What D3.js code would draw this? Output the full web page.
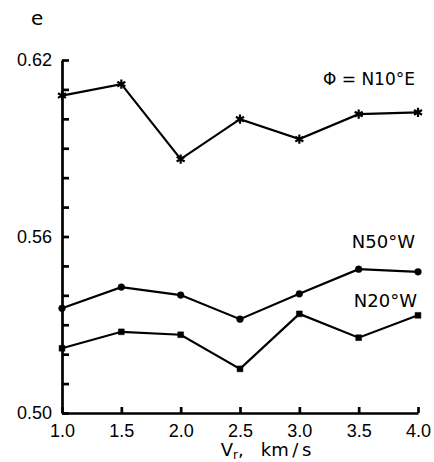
<!DOCTYPE html>
<html>
<head>
<meta charset="utf-8">
<script src="https://cdn.jsdelivr.net/npm/d3@7"></script>
<style>
  body { margin: 0; background: #fff; }
  svg { font-family: "DejaVu Sans", "Liberation Sans", Arial, sans-serif; }
  .axis path, .axis line { stroke: #000; stroke-width: 2.7; }
  .axis text { font-size: 18px; fill: #000; }
</style>
</head>
<body>
<svg id="chart" width="434" height="462"></svg>
<script>
// rupture velocity, km/s
const velocities = [1.0, 1.5, 2.0, 2.5, 3.0, 3.5, 4.0];
// values
const seriesN10E = [0.6079, 0.6118, 0.5863, 0.5999, 0.5931, 0.6016, 0.6022];
const seriesN50W = [0.5356, 0.5428, 0.5401, 0.5319, 0.5405, 0.5489, 0.5480];
const seriesN20W = [0.5220, 0.5276, 0.5266, 0.5150, 0.5337, 0.5256, 0.5332];
const xTicks = [1.0, 1.5, 2.0, 2.5, 3.0, 3.5, 4.0];
const yTicks = [0.50, 0.51, 0.52, 0.53, 0.54, 0.55, 0.56, 0.57, 0.58, 0.59, 0.60, 0.61, 0.62];
const yLabelled = [0.50, 0.56, 0.62];

const svg = d3.select("#chart");

const x = d3.scaleLinear().domain([1.0, 4.0]).range([62, 418]);
const y = d3.scaleLinear().domain([0.50, 0.62]).range([413, 60]);

// y axis, ticks point inward
svg.append("g")
    .attr("class", "axis")
    .attr("transform", "translate(" + x(1.0) + ",0)")
    .call(d3.axisLeft(y)
        .tickValues(yTicks)
        .tickSizeInner(-7)
        .tickSizeOuter(0)
        .tickPadding(10)
        .tickFormat(d => yLabelled.some(v => Math.abs(v - d) < 1e-6) ? d3.format(".2f")(d) : ""));

// x axis
svg.append("g")
    .attr("class", "axis")
    .attr("transform", "translate(0," + y(0.50) + ")")
    .call(d3.axisBottom(x)
        .tickValues(xTicks)
        .tickSizeInner(-6)
        .tickSizeOuter(0)
        .tickPadding(11)
        .tickFormat(d3.format(".1f")));

const line = d3.line()
    .x((d, i) => x(velocities[i]))
    .y(d => y(d));

function drawSeries(values, symbolType, size, filled) {
    svg.append("path")
        .datum(values)
        .attr("fill", "none")
        .attr("stroke", "#000")
        .attr("stroke-width", 2.2)
        .attr("d", line);

    svg.append("g")
        .selectAll("path")
        .data(values)
        .join("path")
        .attr("transform", (d, i) => "translate(" + x(velocities[i]) + "," + y(d) + ")")
        .attr("d", d3.symbol().type(symbolType).size(size))
        .attr("fill", filled ? "#000" : "none")
        .attr("stroke", "#000")
        .attr("stroke-width", filled ? 0.5 : 2.2);
}

drawSeries(seriesN10E, d3.symbolAsterisk, 60, false);
drawSeries(seriesN50W, d3.symbolCircle, 36, true);
drawSeries(seriesN20W, d3.symbolSquare, 34, true);

// panel letter
svg.append("text")
    .attr("x", 31)
    .attr("y", 25)
    .attr("font-size", 20)
    .text("e");

// curve labels
svg.append("text")
    .attr("x", 415)
    .attr("y", 85)
    .attr("text-anchor", "end")
    .attr("font-size", 17)
    .text("Φ = N10°E");

svg.append("text")
    .attr("x", 415)
    .attr("y", 248)
    .attr("text-anchor", "end")
    .attr("font-size", 18)
    .text("N50°W");

svg.append("text")
    .attr("x", 417)
    .attr("y", 307)
    .attr("text-anchor", "end")
    .attr("font-size", 18)
    .text("N20°W");

// x label
const xl = svg.append("text")
    .attr("x", 266)
    .attr("y", 456)
    .attr("text-anchor", "middle")
    .attr("font-size", 18);
xl.append("tspan").text("V");
xl.append("tspan").attr("font-size", 12).attr("dy", 3).text("r");
xl.append("tspan").attr("dy", -3).text(",\u00a0\u00a0\u00a0km\u2009/\u2009s");
</script>
</body>
</html>
